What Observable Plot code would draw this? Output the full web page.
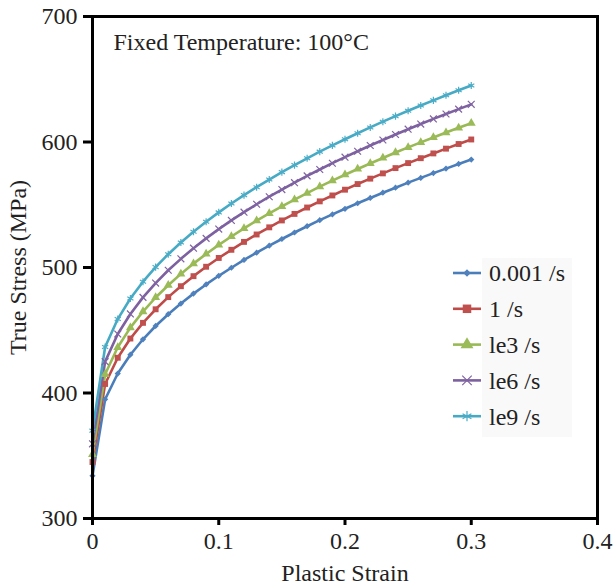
<!DOCTYPE html>
<html><head><meta charset="utf-8">
<script src="https://cdn.jsdelivr.net/npm/d3@7"></script>
<script src="https://cdn.jsdelivr.net/npm/@observablehq/plot@0.6"></script>
<style>
body{margin:0;background:#fff;}
#wrap{position:relative;width:613px;height:586px;font-family:"Liberation Serif","Times New Roman",serif;}
#legend{position:absolute;left:0;top:0;pointer-events:none;}
</style></head><body><div id="wrap"></div>
<script>
// ---- data ----
const strain = [0,0.01,0.02,0.03,0.04,0.05,0.06,0.07,0.08,0.09,0.10,0.11,0.12,0.13,0.14,0.15,0.16,0.17,0.18,0.19,0.20,0.21,0.22,0.23,0.24,0.25,0.26,0.27,0.28,0.29,0.30];
const stress_0001 = [334,395.0,415.5,430.5,442.8,453.4,462.8,471.3,479.2,486.5,493.4,499.8,506.0,511.8,517.4,522.7,527.9,532.9,537.7,542.3,546.8,551.2,555.4,559.6,563.6,567.6,571.4,575.2,578.8,582.5,586];
const stress_1 = [345,407.2,428.1,443.4,455.9,466.7,476.4,485.1,493.1,500.6,507.6,514.1,520.4,526.3,532.0,537.5,542.7,547.8,552.7,557.4,562.0,566.5,570.8,575.0,579.2,583.2,587.1,590.9,594.7,598.4,602];
const stress_1e3 = [351,414.9,436.4,452.1,464.9,476.1,485.9,494.9,503.1,510.8,518.0,524.7,531.2,537.3,543.1,548.7,554.1,559.3,564.4,569.2,573.9,578.5,582.9,587.3,591.6,595.7,599.7,603.6,607.5,611.3,615];
const stress_1e6 = [359.5,425.0,447.0,463.0,476.2,487.6,497.8,506.9,515.4,523.2,530.6,537.5,544.1,550.4,556.4,562.1,567.6,573.0,578.1,583.1,587.9,592.6,597.2,601.6,606.0,610.2,614.3,618.4,622.3,626.2,630];
const stress_1e9 = [370,436.6,458.9,475.3,488.7,500.3,510.6,519.9,528.5,536.5,543.9,551.0,557.7,564.0,570.1,576.0,581.6,587.0,592.3,597.3,602.2,607.0,611.6,616.2,620.6,624.9,629.1,633.2,637.2,641.2,645];
const seriesNames = ["0.001 /s","1 /s","le3 /s","le6 /s","le9 /s"];
const lineColors = ["#4A7EBB","#BE4B48","#98B954","#7D60A0","#46AAC5"];
const markerColors = ["#4F81BD","#C0504D","#9BBB59","#8064A2","#4BACC6"];
const symbols = ["diamond2","square","triangle","times","asterisk"];
const xTicks = [0,0.1,0.2,0.3,0.4];
const yTicks = [300,400,500,600,700];
const titleText = "Fixed Temperature: 100°C";
const xLabel = "Plastic Strain";
const yLabel = "True Stress (MPa)";

// ---- build table ----
const allStress = [stress_0001, stress_1, stress_1e3, stress_1e6, stress_1e9];
const rows = [];
seriesNames.forEach((name, i) => {
  strain.forEach((e, k) => rows.push({strain: e, stress: allStress[i][k], series: name}));
});
const filledSet = new Set([seriesNames[0], seriesNames[1], seriesNames[2]]);
const sizeBy = {[seriesNames[0]]: 3.4, [seriesNames[1]]: 4.8, [seriesNames[2]]: 4.8, [seriesNames[3]]: 4.4, [seriesNames[4]]: 4.8};
const font = '"Liberation Serif","Times New Roman",serif';

const chart = Plot.plot({
  width: 613, height: 586,
  marginLeft: 92, marginRight: 16, marginTop: 16, marginBottom: 68,
  style: {fontFamily: font, fontSize: "24px", color: "#222", background: "white"},
  x: {domain: [0, 0.4]},
  y: {domain: [300, 700]},
  color: {domain: seriesNames, range: lineColors},
  symbol: {domain: seriesNames, range: symbols},
  marks: [
    Plot.line(rows, {x: "strain", y: "stress", z: "series", stroke: "series", strokeWidth: 2.6}),
    Plot.dot(rows.filter(d => filledSet.has(d.series)), {x: "strain", y: "stress", symbol: "series",
      fill: d => markerColors[seriesNames.indexOf(d.series)], stroke: "none", r: d => sizeBy[d.series]}),
    Plot.dot(rows.filter(d => !filledSet.has(d.series)), {x: "strain", y: "stress", symbol: "series",
      stroke: d => markerColors[seriesNames.indexOf(d.series)], fill: "none", strokeWidth: 1.2, r: d => sizeBy[d.series]}),
    Plot.axisY(yTicks, {tickSize: 9, tickPadding: 6, strokeWidth: 3, stroke: "black", fill: "#222",
      tickFormat: d => String(d), label: yLabel, labelArrow: "none", labelAnchor: "center", labelOffset: 84}),
    Plot.axisX(xTicks, {tickSize: 7, tickPadding: 6, strokeWidth: 3, stroke: "black", fill: "#222",
      tickFormat: d => String(d), label: xLabel, labelArrow: "none", labelAnchor: "center", labelOffset: 62}),
    Plot.frame({stroke: "black", strokeWidth: 3}),
    Plot.text([titleText], {frameAnchor: "top-left", dx: 21, dy: 16, textAnchor: "start", fill: "#222"})
  ]
});
const wrap = document.getElementById("wrap");
wrap.appendChild(chart);

// ---- legend overlay (inside plot area) ----
const lg = d3.select(wrap).append("svg").attr("id", "legend").attr("width", 613).attr("height", 586)
  .style("font-family", font).style("font-size", "24px");
lg.append("rect").attr("x", 482).attr("y", 258).attr("width", 90).attr("height", 179).attr("fill", "#f9f9f9");
const d3sym = {diamond2: d3.symbolDiamond2, square: d3.symbolSquare, triangle: d3.symbolTriangle, times: d3.symbolTimes, asterisk: d3.symbolAsterisk};
seriesNames.forEach((name, i) => {
  const y = 273 + i * 35.8;
  const g = lg.append("g");
  g.append("line").attr("x1", 453).attr("x2", 481).attr("y1", y).attr("y2", y)
    .attr("stroke", lineColors[i]).attr("stroke-width", 2.6);
  const r = sizeBy[name];
  const path = d3.symbol(d3sym[symbols[i]], Math.PI * r * r)();
  const p = g.append("path").attr("d", path).attr("transform", `translate(467,${y})`);
  if (filledSet.has(name)) p.attr("fill", markerColors[i]);
  else p.attr("fill", "none").attr("stroke", markerColors[i]).attr("stroke-width", 1.2);
  g.append("text").attr("x", 489).attr("y", y).attr("dy", "0.35em").attr("fill", "#222").text(name);
});
</script>
</body></html>
